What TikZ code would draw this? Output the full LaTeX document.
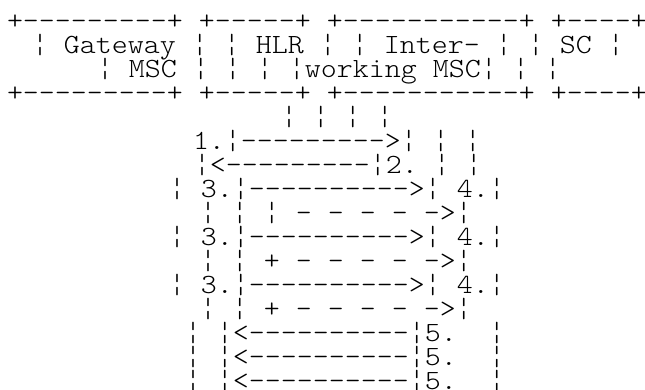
\documentclass[tikz,border=0pt]{standalone}
\usepackage{fontspec}
\setmonofont{Latin Modern Mono Light}
\usepackage{tikz}

% rows keep a 16pt character pitch
\newcommand\pitchrow[1]{\scalebox{1.096}[1]{#1}}

\begin{document}
\begin{tikzpicture}[x=1pt, y=-1pt,
  asciirow/.style={anchor=base west, inner sep=0pt, outer sep=0pt,
    font=\fontsize{27.8}{24}\selectfont\ttfamily\frenchspacing}]
  \useasboundingbox (0,0) rectangle (645,389);
  % the four network entities
  \node[asciirow] (boxtop) at (7,29) {\pitchrow{+---------+ +-----+ +-----------+ +----+}};
  \node[asciirow] (names) at (32,53) {\pitchrow{¦ Gateway ¦ ¦ HLR ¦ ¦ Inter- ¦ ¦ SC ¦}};
  \node[asciirow] (namestwo) at (97,77) {\pitchrow{¦ MSC ¦ ¦ ¦ ¦working MSC¦ ¦ ¦}};
  \node[asciirow] (boxbot) at (7,101) {\pitchrow{+---------+ +-----+ +-----------+ +----+}};
  % routing info request and answer
  \node[asciirow] (lifeline) at (281,125) {\pitchrow{¦ ¦ ¦ ¦}};
  \node[asciirow] (msgone) at (193,149) {\pitchrow{1.¦--------->¦ ¦ ¦}};
  \node[asciirow] (msgtwo) at (194,173) {\pitchrow{¦<---------¦2. ¦ ¦}};
  % forwarding, three times
  \foreach \k in {0,1,2}{
    \node[asciirow] (fwd\k) at (169,197+48*\k) {\pitchrow{¦ 3.¦---------->¦ 4.¦}};
  }
  \node[asciirow] (relayone) at (200,221) {\pitchrow{¦ ¦ ¦ - - - - ->¦}};
  \node[asciirow] (relaytwo) at (200,269) {\pitchrow{¦ ¦ + - - - - ->¦}};
  \node[asciirow] (relaythree) at (200,317) {\pitchrow{¦ ¦ + - - - - ->¦}};
  % reports back
  \foreach \k in {0,1,2}{
    \node[asciirow] (ack\k) at (185,341+24*\k) {\pitchrow{¦ ¦<----------¦5.~~¦}};
  }
\end{tikzpicture}
\end{document}
